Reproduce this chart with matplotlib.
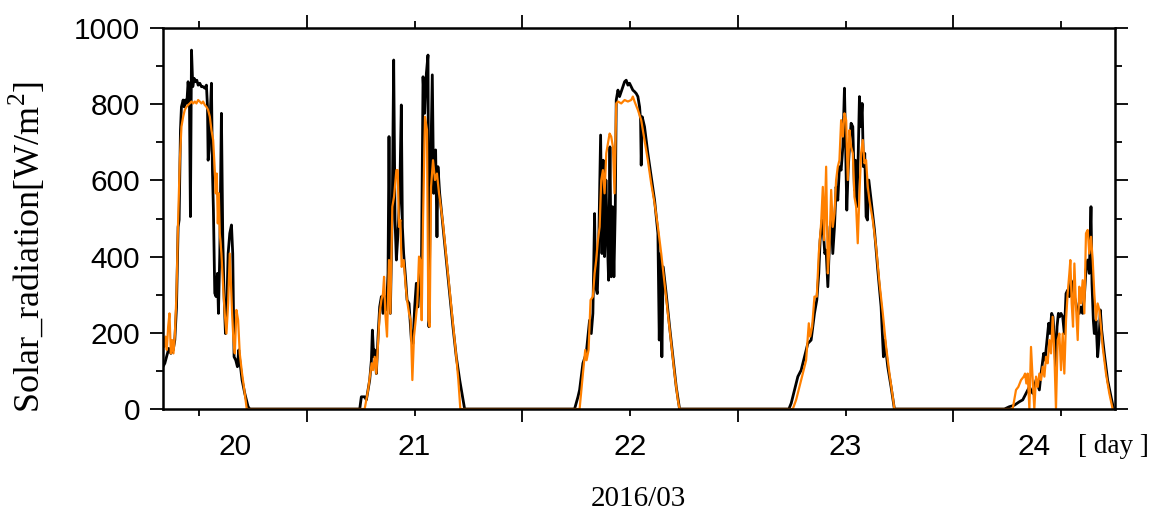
import numpy as np
import matplotlib.pyplot as plt
from matplotlib import transforms

plt.rcParams['mathtext.fontset'] = 'custom'
plt.rcParams['mathtext.rm'] = 'Liberation Serif'

# solar radiation [W/m2] vs local hour, black = observed, orange = model
obs20_h = [7.90, 8.20, 8.49, 8.64, 8.87, 9.13, 9.31, 9.50, 9.68, 9.79, 9.94, 10.05, 10.24, 10.35,
           10.50, 10.65, 10.79, 10.94, 11.05, 11.17, 11.31, 11.46, 11.61, 11.76, 11.91, 12.09,
           12.28, 12.46, 12.65, 12.83, 12.95, 13.02, 13.13, 13.24, 13.39, 13.50, 13.61, 13.76,
           13.91, 14.06, 14.17, 14.32, 14.50, 14.65, 14.80, 14.95, 15.10, 15.25, 15.43, 15.62,
           15.76, 15.91, 16.10, 16.28, 16.43, 16.58, 16.80, 17.10, 17.47, 17.66]
obs20_v = [107, 120, 146, 159, 146, 155, 181, 268, 478, 496, 732, 793, 811, 793,
           811, 802, 859, 811, 505, 942, 846, 868, 859, 863, 850, 855,
           846, 846, 842, 850, 793, 653, 680, 758, 855, 627, 522, 304,
           295, 356, 251, 408, 776, 452, 295, 198, 268, 408, 461, 483,
           408, 137, 128, 111, 155, 120, 76, 41, 6, 0]
mod20_h = [7.90, 8.12, 8.27, 8.42, 8.57, 8.72, 8.87, 9.01, 9.16, 9.31, 9.50, 9.68, 9.87, 10.05,
           10.24, 10.42, 10.61, 10.79, 10.98, 11.17, 11.35, 11.54, 11.72, 11.91, 12.09, 12.28,
           12.46, 12.65, 12.83, 13.02, 13.21, 13.39, 13.58, 13.76, 13.87, 13.98, 14.10, 14.21,
           14.32, 14.50, 14.69, 14.87, 15.06, 15.25, 15.43, 15.58, 15.69, 15.84, 15.99, 16.17,
           16.36, 16.54, 16.80, 17.10, 17.32]
mod20_v = [207, 163, 190, 155, 216, 251, 146, 181, 146, 190, 303, 496, 653, 741,
           767, 785, 793, 798, 802, 807, 802, 807, 802, 811, 807, 802,
           807, 798, 793, 785, 767, 732, 706, 627, 566, 618, 487, 566,
           461, 408, 321, 251, 198, 277, 408, 321, 251, 181, 146, 260,
           233, 146, 93, 41, 0]

obs21_h = [5.90, 6.08, 6.45, 6.64, 7.01, 7.20, 7.31, 7.46, 7.57, 7.75, 7.94, 8.12, 8.31, 8.49,
           8.68, 8.87, 9.05, 9.16, 9.31, 9.53, 9.68, 9.83, 9.98, 10.16, 10.35, 10.53, 10.65,
           10.79, 11.02, 11.17, 11.39, 11.65, 11.83, 12.02, 12.20, 12.39, 12.57, 12.76, 12.95,
           13.13, 13.32, 13.50, 13.61, 13.76, 13.98, 14.13, 14.35, 14.50, 14.61, 14.80, 15.17,
           15.54, 15.91, 16.28, 16.65, 17.03, 17.40, 17.58]
obs21_v = [0, 32, 32, 24, 76, 128, 207, 137, 155, 93, 190, 268, 295, 251,
           295, 260, 356, 715, 251, 540, 916, 496, 391, 461, 557, 798, 478,
           408, 338, 286, 277, 181, 172, 268, 330, 268, 356, 338, 872,
           776, 881, 929, 216, 583, 877, 566, 680, 452, 636, 566, 478,
           391, 303, 216, 137, 76, 24, 0]
mod21_h = [6.45, 6.83, 7.08, 7.23, 7.38, 7.57, 7.75, 7.94, 8.12, 8.31, 8.49, 8.61, 8.75, 8.94,
           9.16, 9.31, 9.53, 9.72, 9.98, 10.13, 10.27, 10.42, 10.57, 10.79, 11.02, 11.17, 11.39,
           11.57, 11.76, 11.94, 12.13, 12.31, 12.50, 12.65, 12.80, 12.95, 13.17, 13.39, 13.54,
           13.69, 13.84, 14.06, 14.28, 14.50, 14.73, 15.17, 15.54, 15.91, 16.28, 16.65, 16.88,
           17.10]
mod21_v = [0, 50, 93, 120, 102, 137, 93, 172, 251, 286, 303, 347, 251, 190,
           391, 251, 531, 557, 627, 627, 478, 496, 373, 391, 321, 286, 251,
           233, 76, 190, 233, 277, 400, 391, 233, 496, 767, 732, 233,
           216, 583, 653, 601, 618, 566, 487, 400, 312, 225, 137, 76,
           0]

obs22_h = [5.82, 6.20, 6.38, 6.75, 7.12, 7.49, 7.68, 7.86, 8.05, 8.16, 8.35, 8.49, 8.72, 8.87,
           9.01, 9.16, 9.31, 9.46, 9.61, 9.76, 9.90, 10.05, 10.20, 10.35, 10.46, 10.65, 10.83,
           11.02, 11.20, 11.39, 11.57, 11.76, 11.94, 12.13, 12.31, 12.50, 12.69, 12.87, 13.06,
           13.17, 13.24, 13.35, 13.61, 13.98, 14.35, 14.73, 15.10, 15.25, 15.39, 15.54, 15.69,
           16.02, 16.40, 16.77, 17.14, 17.51]
obs22_v = [0, 32, 50, 120, 146, 233, 198, 251, 513, 321, 303, 408, 719, 408,
           653, 400, 601, 452, 338, 688, 347, 531, 347, 522, 811, 837, 820,
           833, 846, 859, 863, 850, 855, 846, 837, 833, 828, 820, 793,
           758, 640, 767, 741, 671, 610, 548, 461, 181, 408, 137, 373,
           303, 216, 137, 58, 0]
mod22_h = [6.38, 6.75, 7.01, 7.16, 7.38, 7.60, 7.86, 8.05, 8.23, 8.42, 8.61, 8.79, 8.98, 9.16,
           9.35, 9.53, 9.72, 9.90, 10.09, 10.27, 10.46, 10.65, 11.02, 11.39, 11.76, 12.13,
           12.31, 12.50, 12.87, 13.24, 13.61, 13.98, 14.35, 14.73, 15.10, 15.47, 15.84, 16.21,
           16.58, 16.95, 17.32, 17.51]
mod22_v = [0, 93, 155, 128, 155, 286, 295, 356, 391, 443, 478, 601, 627, 566,
           671, 697, 723, 715, 688, 566, 802, 807, 802, 811, 807, 811,
           820, 807, 785, 758, 706, 653, 592, 540, 478, 408, 330, 251,
           172, 93, 24, 0]

obs23_h = [5.68, 5.94, 6.31, 6.68, 7.05, 7.42, 7.79, 8.16, 8.53, 8.79, 9.01, 9.16, 9.39, 9.53,
           9.68, 9.83, 10.02, 10.13, 10.27, 10.42, 10.57, 10.76, 10.94, 11.13, 11.31, 11.50,
           11.69, 11.87, 11.98, 12.13, 12.28, 12.43, 12.61, 12.80, 12.98, 13.09, 13.24, 13.39,
           13.54, 13.69, 13.84, 13.98, 14.13, 14.28, 14.43, 14.58, 14.84, 15.21, 15.58, 15.95,
           16.21, 16.36, 16.69, 17.06, 17.43]
obs23_v = [0, 15, 50, 85, 102, 137, 172, 181, 251, 286, 356, 443, 496, 461,
           408, 417, 321, 391, 478, 496, 408, 478, 583, 548, 636, 627,
           688, 842, 715, 522, 627, 688, 750, 741, 575, 653, 531, 653,
           820, 741, 802, 636, 671, 505, 496, 601, 548, 470, 365, 268,
           137, 181, 111, 58, 0]
mod23_h = [6.12, 6.49, 6.86, 7.23, 7.60, 7.90, 8.05, 8.27, 8.53, 8.79, 9.01, 9.27, 9.46, 9.61,
           9.83, 10.02, 10.20, 10.39, 10.57, 10.76, 10.94, 11.13, 11.31, 11.50, 11.69, 11.87,
           12.06, 12.24, 12.43, 12.61, 12.80, 12.98, 13.17, 13.35, 13.54, 13.72, 13.91, 14.10,
           14.28, 14.47, 14.65, 15.02, 15.39, 15.77, 16.14, 16.51, 16.88, 17.25, 17.43]
mod23_v = [0, 24, 58, 93, 128, 225, 190, 216, 295, 295, 408, 487, 583, 443,
           636, 356, 426, 575, 478, 513, 601, 636, 653, 758, 715, 776,
           758, 601, 732, 688, 671, 557, 531, 435, 566, 671, 706, 645,
           653, 583, 548, 496, 426, 330, 251, 163, 93, 32, 0]

obs24_h = [5.68, 6.23, 6.79, 7.34, 7.72, 8.09, 8.46, 8.83, 9.20, 9.57, 9.76, 10.05, 10.20,
           10.42, 10.61, 10.76, 10.94, 11.09, 11.24, 11.39, 11.54, 11.69, 11.83, 11.98, 12.17,
           12.35, 12.54, 12.72, 12.91, 13.09, 13.28, 13.47, 13.65, 13.84, 14.02, 14.21, 14.39,
           14.58, 14.76, 14.95, 15.13, 15.32, 15.43, 15.58, 15.69, 15.88, 16.06, 16.21, 16.36,
           16.51, 16.80, 17.17, 17.55, 17.84]
obs24_v = [0, 6, 10, 19, 24, 41, 58, 41, 76, 50, 93, 146, 128,
           181, 225, 198, 251, 242, 181, 111, 216, 251, 242, 251, 242,
           198, 303, 312, 295, 338, 321, 295, 277, 251, 251, 268, 251,
           295, 365, 391, 356, 531, 330, 233, 198, 233, 137, 181, 260,
           207, 146, 76, 32, 0]
mod24_h = [6.60, 6.97, 7.23, 7.53, 7.83, 7.98, 8.12, 8.27, 8.46, 8.64, 8.83, 9.01, 9.20, 9.39,
           9.57, 9.76, 9.94, 10.13, 10.31, 10.50, 10.68, 10.87, 11.05, 11.24, 11.42, 11.61,
           11.80, 11.98, 12.17, 12.35, 12.54, 12.72, 12.91, 13.02, 13.17, 13.32, 13.47, 13.65,
           13.84, 14.02, 14.21, 14.39, 14.58, 14.76, 14.95, 15.13, 15.32, 15.51, 15.69, 15.88,
           16.06, 16.25, 16.43, 16.62, 16.99, 17.36, 17.73]
mod24_v = [0, 50, 58, 76, 85, 93, 67, 93, 0, 163, 76, 0, 85, 58,
           93, 76, 111, 85, 137, 120, 181, 146, 242, 146, 0, 181,
           198, 102, 198, 93, 233, 303, 356, 391, 277, 216, 382, 268,
           181, 321, 277, 338, 251, 461, 470, 408, 452, 391, 303, 233,
           277, 260, 216, 163, 93, 41, 0]

days = [20, 21, 22, 23, 24]
obs_h = [obs20_h, obs21_h, obs22_h, obs23_h, obs24_h]
obs_v = [obs20_v, obs21_v, obs22_v, obs23_v, obs24_v]
mod_h = [mod20_h, mod21_h, mod22_h, mod23_h, mod24_h]
mod_v = [mod20_v, mod21_v, mod22_v, mod23_v, mod24_v]


def join(hours, vals):
    t = np.concatenate([d + np.array(h) / 24.0 for d, h in zip(days, hours)])
    v = np.concatenate([np.array(v, dtype=float) for v in vals])
    return t, v


t_obs, v_obs = join(obs_h, obs_v)
t_mod, v_mod = join(mod_h, mod_v)

fig = plt.figure(figsize=(11.53, 5.11), dpi=100)
ax = fig.add_axes([0.1414, 0.1996, 0.8257, 0.7456])

ax.plot(t_obs, v_obs, color='black', lw=2.0)
ax.plot(t_mod, v_mod, color='#ff8000', lw=1.6)

xmin, xmax = 20 + 1 / 3, 24.75
ax.set_xlim(xmin, xmax)
ax.set_ylim(0, 1000)
for s in ax.spines.values():
    s.set_linewidth(1.8)

ax.set_xticks([21, 22, 23, 24])
ax.set_xticks([20.5, 21.5, 22.5, 23.5, 24.5], minor=True)
ax.set_yticks(range(0, 1001, 200))
ax.set_yticks(range(100, 1000, 200), minor=True)
ax.tick_params(which='both', direction='out', top=True, right=True,
               labelbottom=False, width=1.3)
ax.tick_params(which='major', length=9.4)
ax.tick_params(which='minor', length=4.7)
ax.tick_params(axis='y', labelsize=21.5, pad=7, labelfontfamily='Liberation Sans')

# day labels centred in each visible day interval
trans = transforms.blended_transform_factory(ax.transData, ax.transAxes)
for d in days:
    c = (max(d, xmin) + min(d + 1, xmax)) / 2
    ax.text(c, -0.1, str(d), transform=trans, ha='center', va='center',
            fontsize=21.5, family='Liberation Sans')

fig.text(0.966, 0.127, '[ day ]', ha='center', va='center', fontsize=19.5,
         family='Liberation Serif')
fig.text(0.554, 0.024, '2016/03', ha='center', va='center', fontsize=21,
         family='Liberation Serif')
fig.text(0.0243, 0.5176, 'Solar_radiation[W/m$^{2}$]', rotation=90, ha='center',
         va='center', fontsize=26, family='Liberation Serif')

fig.savefig('out.png', dpi=100)
